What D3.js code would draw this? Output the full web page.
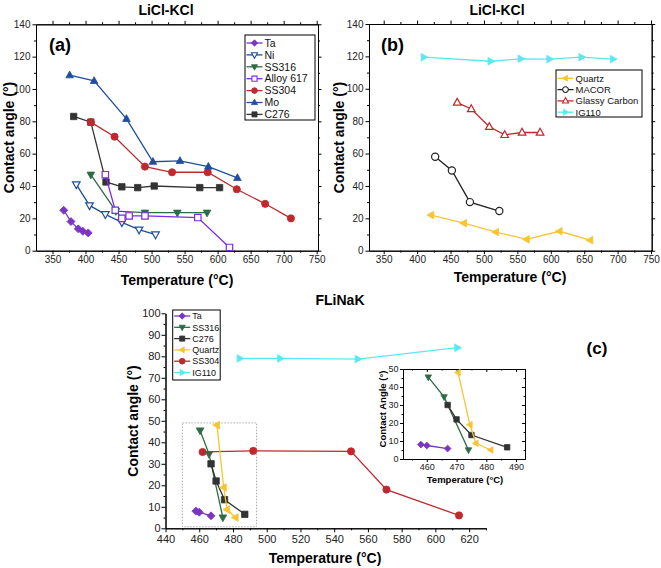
<!DOCTYPE html>
<html><head><meta charset="utf-8">
<script src="https://cdn.jsdelivr.net/npm/d3@7"></script>
<style>body{margin:0;background:#fff} svg{display:block;font-family:"Liberation Sans",Arial,sans-serif}</style>
</head><body><svg id="chart" width="661" height="568"></svg>
<script>
// ---------- DATA ----------
// Panel (a) LiCl-KCl metals  [temperature °C, contact angle °]
const aNames = ["Ta","Ni","SS316","Alloy 617","SS304","Mo","C276"];
const aTa    = [[367,25],[378,18],[389,13.5],[396,12],[404,11]];
const aNi    = [[386,41],[406,28],[430,22.5],[455,17.5],[481,13],[506,10]];
const aSS316 = [[408,47],[446,24.5],[490,23.5],[539,23.5],[584,23.5]];
const aA617  = [[430,47],[445,25],[455,20],[466,21.5],[490,21.5],[570,20.5],[618,2]];
const aSS304 = [[408,79.5],[444,70.5],[490,52],[531,48.5],[585,48.5],[629,38],[672,29],[711,20]];
const aMo    = [[376,108.5],[413,105],[462,81.5],[502,55],[543,55.5],[586,52],[630,45]];
const aC276  = [[382,83],[408,79.5],[431,42.5],[455,39.5],[479,39],[504,40],[573,39],[603,39]];
// Panel (b) LiCl-KCl non-metals
const bNames  = ["Quartz","MACOR","Glassy Carbon","IG110"];
const bQuartz = [[421,22],[470,17],[518,11.5],[564,7],[613,12],[659,6.5]];
const bMacor  = [[427,58],[452,49.5],[479,30],[523,24.5]];
const bGlassy = [[460,91.5],[481,87.5],[508,76.5],[531,71.5],[557,73],[584,73]];
const bIG110  = [[410,119.5],[510,117],[555,118.5],[598,118.3],[646,119.5],[693,118.3]];
// Panel (c) FLiNaK
const cNames  = ["Ta","SS316","C276","Quartz","SS304","IG110"];
const cTa     = [[458,8],[460,7.5],[467,5.8]];
const cSS316  = [[460.5,45.5],[465.8,34.5],[474,5]];
const cC276   = [[467,30],[470,22],[475,13.3],[487,6.5]];
const cQuartz = [[470.5,48],[474.5,19],[476.5,8.7],[481.5,5]];
const cSS304  = [[462,35.5],[492,36],[550,35.8],[571,18],[614,6]];
const cIG110  = [[484,79],[508,79],[554,78.7],[613,84]];
// Tick values
const abXTicks = [350,400,450,500,550,600,650,700,750];
const abYTicks = [0,20,40,60,80,100,120,140];
const cXTicks  = [440,460,480,500,520,540,560,580,600,620];
const cYTicks  = [0,10,20,30,40,50,60,70,80,90,100];
const inXTicks = [460,470,480,490];
const inYTicks = [0,10,20,30,40,50];

// ---------- STYLES ----------
const ST = {
  "Ta":{c:"#7a36c2",s:"diamond",open:false},
  "Ni":{c:"#1f4f9c",s:"triDown",open:true},
  "SS316":{c:"#2f6b45",s:"triDown",open:false},
  "Alloy 617":{c:"#7d2ae8",s:"square",open:true},
  "SS304":{c:"#c0282d",s:"circle",open:false},
  "Mo":{c:"#1f4f9c",s:"triUp",open:false},
  "C276":{c:"#333333",s:"square",open:false},
  "Quartz":{c:"#f7c531",s:"triLeft",open:false},
  "MACOR":{c:"#222222",s:"circle",open:true},
  "Glassy Carbon":{c:"#c0282d",s:"triUp",open:true},
  "IG110":{c:"#5ce8f0",s:"triRight",open:false}
};
function markerPath(shape, k){
  const r=4*k;
  switch(shape){
    case "diamond": return `M0,${-r}L${r},0L0,${r}L${-r},0Z`;
    case "triUp": return `M0,${-r*1.05}L${r*0.95},${r*0.65}L${-r*0.95},${r*0.65}Z`;
    case "triDown": return `M0,${r*1.05}L${r*0.95},${-r*0.65}L${-r*0.95},${-r*0.65}Z`;
    case "triLeft": return `M${-r*1.05},0L${r*0.65},${-r*0.95}L${r*0.65},${r*0.95}Z`;
    case "triRight": return `M${r*1.05},0L${-r*0.65},${-r*0.95}L${-r*0.65},${r*0.95}Z`;
    case "square": {const h=r*0.8; return `M${-h},${-h}H${h}V${h}H${-h}Z`;}
    case "circle": {const h=r*0.9; return `M${h},0A${h},${h} 0 1,1 ${-h},0A${h},${h} 0 1,1 ${h},0Z`;}
  }
}
const svg = d3.select("#chart");

function drawSeries(g, x, y, name, data, k){
  const st = ST[name];
  g.append("path").datum(data)
    .attr("d", d3.line().x(d=>x(d[0])).y(d=>y(d[1])))
    .attr("fill","none").attr("stroke",st.c).attr("stroke-width",1.3);
  g.selectAll(null).data(data).enter().append("path")
    .attr("transform", d=>`translate(${x(d[0])},${y(d[1])})`)
    .attr("d", markerPath(st.s, k))
    .attr("fill", st.open ? "#fff" : st.c)
    .attr("stroke", st.c).attr("stroke-width", st.open?1.2:0.8);
}
function styleAxis(sel, fs){
  sel.selectAll("path.domain").attr("stroke","#000").attr("stroke-width",1);
  sel.selectAll("line").attr("stroke","#000").attr("stroke-width",1);
  sel.selectAll("text").attr("font-size",fs).attr("fill","#222").attr("font-family","Liberation Sans, Arial, sans-serif");
}
function axes(g, x, y, o){
  const [X0,X1]=x.range(), [Y0,Y1]=y.range();
  const fs=o.fs, mj=o.major, mn=o.minor;
  const fmt=d3.format("d");
  g.append("g").attr("transform",`translate(0,${Y0})`)
    .call(d3.axisBottom(x).tickValues(o.xt).tickSize(mj).tickSizeOuter(0).tickPadding(o.xpad!==undefined?o.xpad:o.pad).tickFormat(fmt)).call(s=>styleAxis(s,fs));
  g.append("g").attr("transform",`translate(0,${Y0})`)
    .call(d3.axisBottom(x).tickValues(o.xm).tickSize(mn).tickSizeOuter(0).tickFormat("")).call(s=>styleAxis(s,fs));
  g.append("g").attr("transform",`translate(${X0},0)`)
    .call(d3.axisLeft(y).tickValues(o.yt).tickSize(mj).tickSizeOuter(0).tickPadding(o.pad).tickFormat(fmt)).call(s=>styleAxis(s,fs));
  g.append("g").attr("transform",`translate(${X0},0)`)
    .call(d3.axisLeft(y).tickValues(o.ym).tickSize(mn).tickSizeOuter(0).tickFormat("")).call(s=>styleAxis(s,fs));
  if(o.box){
    const inw = o.boxIn ? -1 : 1;
    g.append("g").attr("transform",`translate(0,${Y1})`)
      .call(d3.axisTop(x).tickValues(o.xt).tickSize(mj*inw).tickSizeOuter(0).tickFormat("")).call(s=>styleAxis(s,fs));
    g.append("g").attr("transform",`translate(0,${Y1})`)
      .call(d3.axisTop(x).tickValues(o.xm).tickSize(mn*inw).tickSizeOuter(0).tickFormat("")).call(s=>styleAxis(s,fs));
    g.append("g").attr("transform",`translate(${X1},0)`)
      .call(d3.axisRight(y).tickValues(o.yt).tickSize(mj*inw).tickSizeOuter(0).tickFormat("")).call(s=>styleAxis(s,fs));
    g.append("g").attr("transform",`translate(${X1},0)`)
      .call(d3.axisRight(y).tickValues(o.ym).tickSize(mn*inw).tickSizeOuter(0).tickFormat("")).call(s=>styleAxis(s,fs));
  }
}
function legend(g, names, bx, by, bw, bh, y0, step, fs){
  g.append("rect").attr("x",bx).attr("y",by).attr("width",bw).attr("height",bh)
    .attr("fill","#fff").attr("stroke","#000").attr("stroke-width",1);
  names.forEach((n,i)=>{
    const st=ST[n], yy=y0+i*step, lx=bx+1.5;
    g.append("line").attr("x1",lx).attr("x2",lx+16).attr("y1",yy).attr("y2",yy).attr("stroke",st.c).attr("stroke-width",1.3);
    g.append("path").attr("transform",`translate(${lx+8},${yy})`).attr("d",markerPath(st.s,0.8))
      .attr("fill",st.open?"#fff":st.c).attr("stroke",st.c).attr("stroke-width",st.open?1.1:0.8);
    g.append("text").attr("x",lx+18).attr("y",yy).attr("dy","0.36em").attr("font-size",fs).attr("fill","#111").text(n);
  });
}
function text(x,y,t,fs,opts={}){
  const el=svg.append("text").attr("x",x).attr("y",y).attr("font-size",fs)
    .attr("font-weight",opts.bold===false?"normal":"bold").attr("fill","#000")
    .attr("text-anchor",opts.anchor||"middle").text(t);
  if(opts.rot) el.attr("transform",`rotate(-90,${x},${y})`).attr("dy","0.35em");
  return el;
}
function range(a,b,s){const r=[];for(let v=a;v<=b+1e-9;v+=s)r.push(v);return r;}

// ---------- PANEL (a) ----------
{
  const g=svg.append("g");
  const x=d3.scaleLinear().domain([325,752]).range([36,318]);
  const y=d3.scaleLinear().domain([0,140]).range([250.7,24.3]);
  axes(g,x,y,{xt:abXTicks,xm:range(375,725,50),yt:abYTicks,ym:range(10,130,20),fs:10,major:3.5,minor:2,pad:2,box:true});
  const ser=[["C276",aC276],["SS304",aSS304],["Mo",aMo],["Ni",aNi],["SS316",aSS316],["Alloy 617",aA617],["Ta",aTa]];
  ser.forEach(([n,d])=>drawSeries(g,x,y,n,d,1));
  legend(g,aNames,245,35,70,85,43,11.9,10.5);
  text(49,51,"(a)",18,{anchor:"start"});
  text(166,15,"LiCl-KCl",14);
  text(177,285,"Temperature (°C)",14);
  text(9.5,137.5,"Contact angle (°)",14,{rot:true});
}
// ---------- PANEL (b) ----------
{
  const g=svg.append("g");
  const x=d3.scaleLinear().domain([328,751]).range([369,651.7]);
  const y=d3.scaleLinear().domain([0,140]).range([250.7,24]);
  axes(g,x,y,{xt:abXTicks,xm:range(375,725,50),yt:abYTicks,ym:range(10,130,20),fs:10,major:3.5,minor:2,pad:2,box:true});
  const ser=[["IG110",bIG110],["Glassy Carbon",bGlassy],["MACOR",bMacor],["Quartz",bQuartz]];
  ser.forEach(([n,d])=>drawSeries(g,x,y,n,d,1));
  legend(g,bNames,556,70,86,47,78.3,11.3,9.5);
  text(381,51,"(b)",18,{anchor:"start"});
  text(497,15,"LiCl-KCl",14);
  text(510,282,"Temperature (°C)",14);
  text(339.5,137.5,"Contact angle (°)",14,{rot:true});
}
// ---------- PANEL (c) ----------
{
  const g=svg.append("g");
  const x=d3.scaleLinear().domain([440,630]).range([165.5,486]);
  const y=d3.scaleLinear().domain([0,100]).range([528.3,313.3]);
  axes(g,x,y,{xt:cXTicks,xm:range(450,630,20),yt:cYTicks,ym:range(5,95,10),fs:11,major:4,minor:2,pad:1,xpad:2.5,box:false});
  g.append("rect").attr("x",x(450)).attr("y",y(49)).attr("width",x(494)-x(450)).attr("height",y(0.7)-y(49))
    .attr("fill","none").attr("stroke","#aaa").attr("stroke-width",1).attr("stroke-dasharray","1.5,1.5");
  const ser=[["IG110",cIG110],["SS304",cSS304],["Ta",cTa],["SS316",cSS316],["C276",cC276],["Quartz",cQuartz]];
  ser.forEach(([n,d])=>drawSeries(g,x,y,n,d,1));
  legend(g,cNames,172.7,310,47.5,70,316,11.3,9);
  text(340,305,"FLiNaK",14);
  text(597,354,"(c)",17);
  text(325,563,"Temperature (°C)",14);
  text(133.5,421,"Contact angle (°)",14,{rot:true});

  // inset
  const gi=svg.append("g");
  const xi=d3.scaleLinear().domain([452,493]).range([403,525]);
  const yi=d3.scaleLinear().domain([0,50]).range([459,369]);
  gi.append("rect").attr("x",403).attr("y",369).attr("width",122).attr("height",90).attr("fill","#fff");
  axes(gi,xi,yi,{xt:inXTicks,xm:[455,465,475,485],yt:inYTicks,ym:range(5,45,10),fs:9,major:3,minor:1.5,pad:1.5,box:true,boxIn:true});
  const iser=[["Ta",cTa],["SS316",cSS316],["C276",cC276],["Quartz",cQuartz]];
  iser.forEach(([n,d])=>drawSeries(gi,xi,yi,n,d,0.85));
  text(465,483,"Temperature (°C)",9.5);
  text(383,409,"Contact Angle (°)",9.5,{rot:true});
}
</script></body></html>
